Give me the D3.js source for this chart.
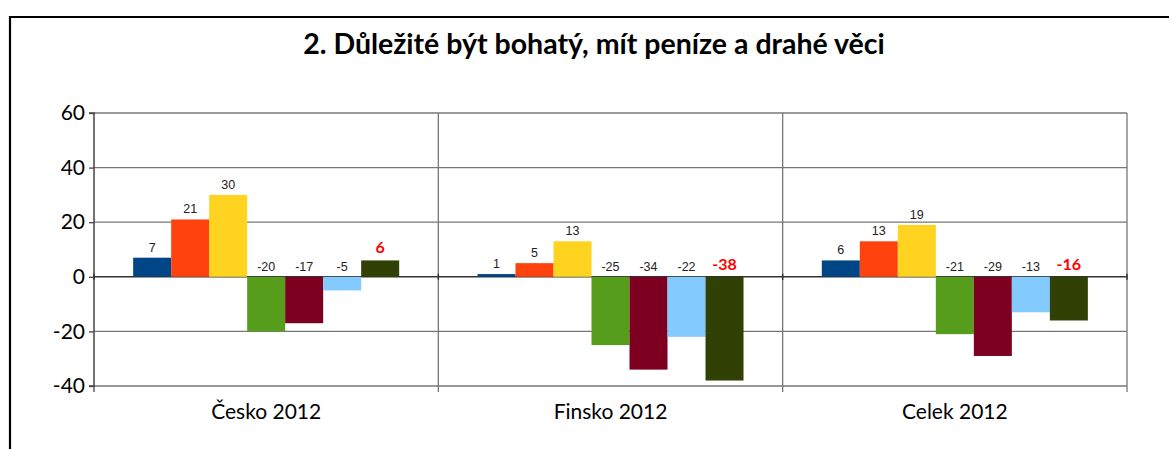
<!DOCTYPE html>
<html><head><meta charset="utf-8">
<script src="https://cdnjs.cloudflare.com/ajax/libs/d3/7.8.5/d3.min.js"></script>
<style>html,body{margin:0;padding:0;background:#fff;}svg{display:block;}</style>
</head><body>
<svg id="chart" width="1169" height="449"></svg>
<script>
const title = "2. Důležité být bohatý, mít peníze a drahé věci";
const categories = ["Česko 2012", "Finsko 2012", "Celek 2012"];
const series1 = [7, 1, 6];
const series2 = [21, 5, 13];
const series3 = [30, 13, 19];
const series4 = [-20, -25, -21];
const series5 = [-17, -34, -29];
const series6 = [-5, -22, -13];
const series7 = [6, -38, -16];
const yTicks = [-40, -20, 0, 20, 40, 60];
const seriesColors = ["#004586", "#ff420e", "#ffd320", "#579d1c", "#7e0021", "#83caff", "#314004"];

const allSeries = [series1, series2, series3, series4, series5, series6, series7];
const svg = d3.select("#chart");
const pL = 94, pR = 1127, pT = 113, pB = 386;
const calibri = "Lato, 'Open Sans', sans-serif";

// outer frame
svg.append("path").attr("d", "M10,449 V17 H1169").attr("fill", "none").attr("stroke", "#000").attr("stroke-width", 2.2);

svg.append("text").attr("x", 594).attr("y", 54).attr("text-anchor", "middle")
  .attr("font-family", calibri).attr("font-weight", "bold").attr("font-size", 28.5)
  .attr("fill", "#000").text(title);

const y = d3.scaleLinear().domain([-40, 60]).range([pB, pT]);
const x0 = d3.scaleBand().domain(categories).range([pL, pR]).padding(0);
const x1 = d3.scaleBand().domain(d3.range(allSeries.length)).range([0, x0.bandwidth()]).paddingInner(0).paddingOuter(1.03);

// horizontal gridlines
svg.append("g").selectAll("line").data(yTicks).join("line")
  .attr("x1", pL).attr("x2", pR).attr("y1", d => y(d)).attr("y2", d => y(d))
  .attr("stroke", d => d === 0 ? "#333" : "#777").attr("stroke-width", d => d === 0 ? 1.5 : 1.3);

// vertical category separators
const seps = categories.map(c => x0(c)).concat([pR]);
svg.append("g").selectAll("line").data(seps.slice(1)).join("line")
  .attr("x1", d => d).attr("x2", d => d).attr("y1", pT).attr("y2", pB + 6)
  .attr("stroke", "#777").attr("stroke-width", 1.3);

// y axis
const yAxis = d3.axisLeft(y).tickValues(yTicks).tickSize(5).tickPadding(4).tickFormat(d3.format("d"));
const ya = svg.append("g").attr("transform", `translate(${pL},0)`).call(yAxis);
ya.select(".domain").attr("stroke", "#444").attr("stroke-width", 1.5).attr("d", `M-5,${pT}H0V${pB}H-5`);
ya.selectAll(".tick line").attr("stroke", "#444").attr("stroke-width", 1.3);
ya.selectAll(".tick text").attr("font-family", calibri).attr("font-size", 21).attr("fill", "#000").text(d => d < 0 ? "-" + Math.abs(d) : d);
svg.append("line").attr("x1", pL).attr("x2", pL).attr("y1", pB).attr("y2", pB + 6).attr("stroke", "#444").attr("stroke-width", 1.3);
// zero line ticks at separators
svg.append("g").selectAll("line").data(seps).join("line")
  .attr("x1", d => d).attr("x2", d => d).attr("y1", y(0) - 3).attr("y2", y(0) + 3)
  .attr("stroke", "#333").attr("stroke-width", 1.5);

// x axis labels
const xAxis = d3.axisBottom(x0).tickSize(0).tickPadding(0);
const xa = svg.append("g").attr("transform", `translate(0,${pB + 18})`).call(xAxis);
xa.select(".domain").remove();
xa.selectAll(".tick text").attr("font-family", calibri).attr("font-size", 21).attr("fill", "#000").attr("dy", "0.71em");

// bars
const flat = [];
categories.forEach((c, ci) => allSeries.forEach((s, si) => flat.push({c, si, v: s[ci]})));
svg.append("g").selectAll("rect").data(flat).join("rect")
  .attr("x", d => x0(d.c) + x1(d.si)).attr("width", x1.bandwidth())
  .attr("y", d => y(Math.max(0, d.v))).attr("height", d => Math.abs(y(d.v) - y(0)))
  .attr("fill", d => seriesColors[d.si]);

// labels
svg.append("g").selectAll("text").data(flat).join("text")
  .attr("x", d => x0(d.c) + x1(d.si) + x1.bandwidth() / 2)
  .attr("y", d => y(Math.max(0, d.v)) - (d.si === 6 ? 7 : 6))
  .attr("text-anchor", "middle")
  .attr("font-family", d => d.si === 6 ? calibri : "'Liberation Sans', Arial, sans-serif")
  .attr("font-weight", d => d.si === 6 ? "bold" : "normal")
  .attr("font-size", d => d.si === 6 ? 16 : 12.5)
  .attr("fill", d => d.si === 6 ? "#ff0000" : "#222")
  .text(d => d.v);
</script>
</body></html>
